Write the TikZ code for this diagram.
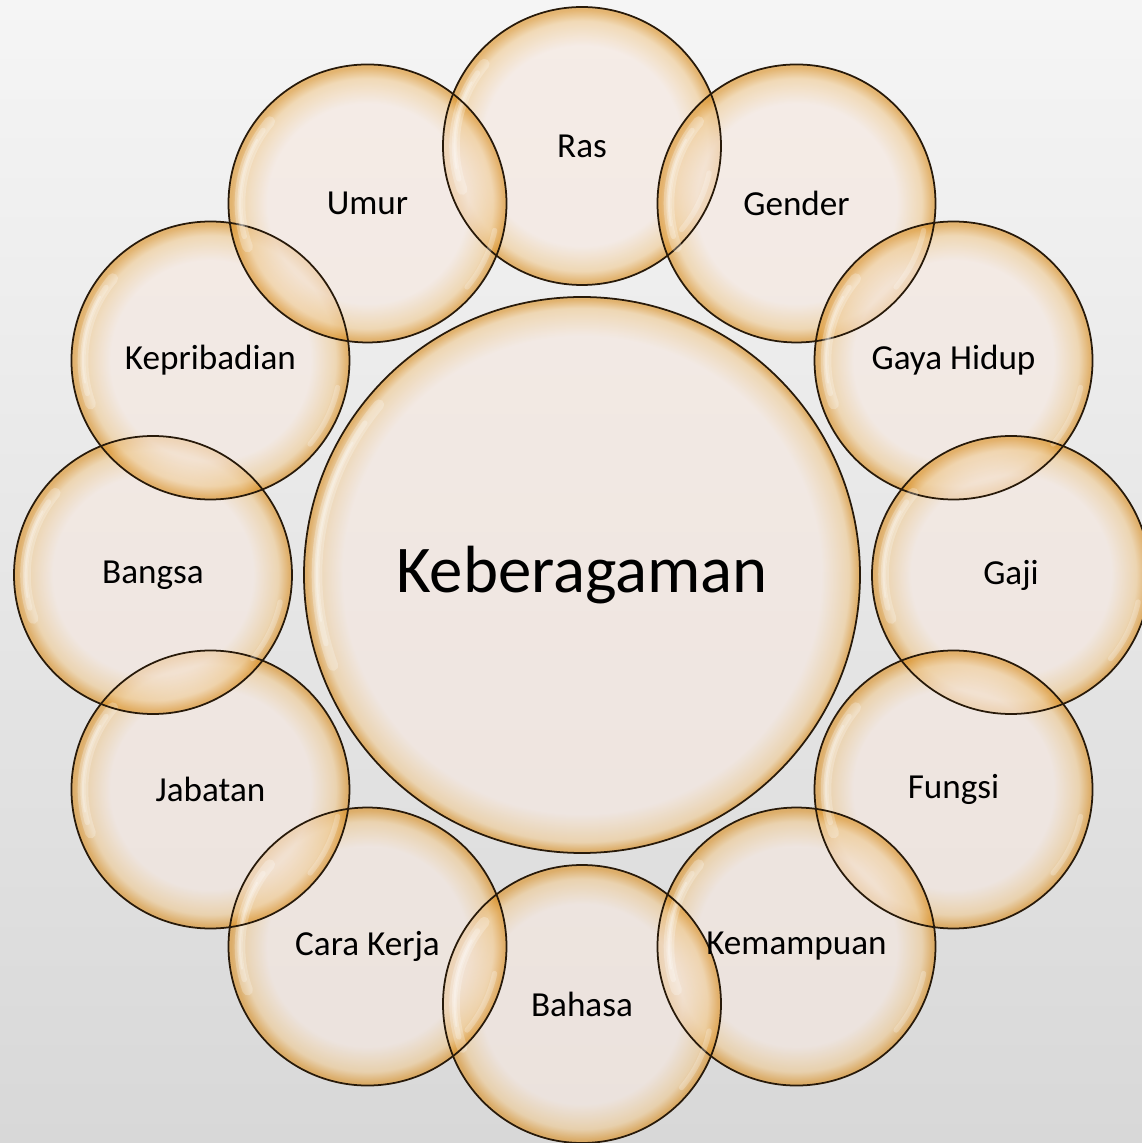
\documentclass[tikz,border=0pt]{standalone}
\usepackage{fontspec}
\setmainfont{Carlito}
\definecolor{bubblein}{RGB}{246,232,224}
\definecolor{bubblemid}{RGB}{240,204,150}
\definecolor{bubblerim}{RGB}{220,148,44}
\definecolor{bubbleline}{RGB}{40,26,10}
\definecolor{bgtop}{RGB}{245,245,245}
\definecolor{bgbottom}{RGB}{216,216,216}
\pgfdeclareradialshading{smallbubble}{\pgfpoint{0bp}{0bp}}{color(0bp)=(bubblein); color(18bp)=(bubblein); color(22.5bp)=(bubblemid); color(24.5bp)=(bubblerim); color(25bp)=(bubblerim); color(50bp)=(bubblerim)}
\pgfdeclareradialshading{bigbubble}{\pgfpoint{0bp}{0bp}}{color(0bp)=(bubblein); color(21.5bp)=(bubblein); color(24bp)=(bubblemid); color(24.8bp)=(bubblerim); color(25bp)=(bubblerim); color(50bp)=(bubblerim)}
\tikzset{every bubble/.style={circle, inner sep=0pt, fill opacity=0.65},
 small bubble/.style={every bubble, minimum size=5.56cm, shading=smallbubble},
 big bubble/.style={every bubble, minimum size=11.12cm, shading=bigbubble},
 rim line/.style={draw=bubbleline, line width=1pt},
 glint/.style={draw=white, line cap=round, opacity=0.25, line width=6pt},
 label text/.style={font=\fontsize{20}{24}\selectfont, text=black},
 }

\begin{document}
\begin{tikzpicture}
    \shade[top color=bgtop, bottom color=bgbottom] (-11.64,-11.36) rectangle (11.2,11.5);
    \useasboundingbox (-11.64,-11.36) rectangle (11.2,11.5);
    \node[big bubble] (keberagaman) at (0,0) {};
    \foreach \a/\n in {90/ras, 60/gender, 30/gayahidup, 0/gaji, -30/fungsi, -60/kemampuan,
        -90/bahasa, -120/carakerja, -150/jabatan, 180/bangsa, 150/kepribadian, 120/umur}
        \node[small bubble] (\n) at (\a:8.58) {};
    \draw[glint] (keberagaman.center) ++(140:5.3) arc[start angle=140, end angle=200, radius=5.3];
    \draw[glint, line width=3pt] (keberagaman.center) ++(145:5.3) arc[start angle=145, end angle=195, radius=5.3];
    \draw[glint, line width=1.2pt] (keberagaman.center) ++(150:5.3) arc[start angle=150, end angle=190, radius=5.3];
    \draw[rim line] (keberagaman.center) circle[radius=5.56];
    \foreach \n in {ras, gender, gayahidup, gaji, fungsi, kemampuan,
        bahasa, carakerja, jabatan, bangsa, kepribadian, umur} {
        \draw[glint] (\n.center) ++(140:2.55) arc[start angle=140, end angle=200, radius=2.55];
        \draw[glint, line width=3pt] (\n.center) ++(145:2.55) arc[start angle=145, end angle=195, radius=2.55];
        \draw[glint, line width=1.2pt] (\n.center) ++(150:2.55) arc[start angle=150, end angle=190, radius=2.55];
        \draw[glint, line width=3pt] (\n.center) ++(-40:2.6) arc[start angle=-40, end angle=-12, radius=2.6];
        \draw[rim line] (\n.center) circle[radius=2.78];
    }
    \node[label text, font=\fontsize{38}{46}\selectfont] (keberagaman-text) at (keberagaman) {Keberagaman};
    \foreach \n/\t in {ras/Ras, gender/Gender, gayahidup/Gaya Hidup, gaji/Gaji, fungsi/Fungsi,
        kemampuan/Kemampuan, bahasa/Bahasa, carakerja/Cara Kerja, jabatan/Jabatan,
        bangsa/Bangsa, kepribadian/Kepribadian, umur/Umur}
        \node[label text] (\n-text) at (\n) {\t};
\end{tikzpicture}
\end{document}
